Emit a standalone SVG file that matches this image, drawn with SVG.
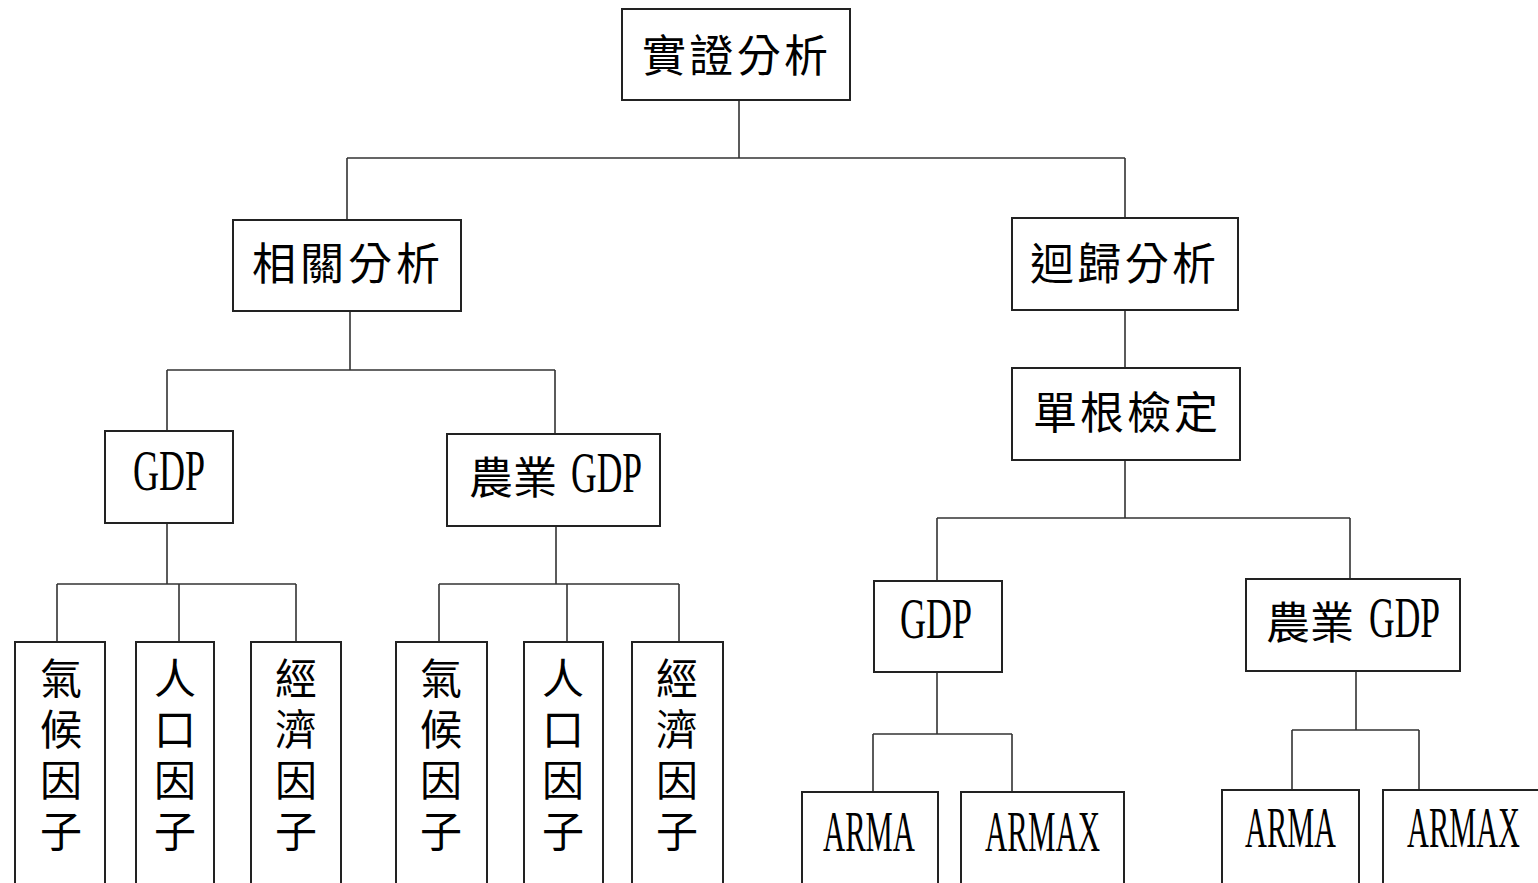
<svg xmlns="http://www.w3.org/2000/svg" width="1538" height="883" viewBox="0 0 1538 883">
<style>
.box{fill:#fff;stroke:#222;stroke-width:2}
.cj{font-family:"Noto Sans CJK TC","Noto Sans CJK SC",sans-serif;font-size:44px;fill:#000}
.cv{font-family:"Noto Sans CJK TC","Noto Sans CJK SC",sans-serif;font-size:42px;fill:#000;text-anchor:middle}
.lt{font-family:"Liberation Serif",serif;font-size:57px;fill:#000}
.conn{fill:none;stroke:#333;stroke-width:1.6}
</style>
<rect width="1538" height="883" fill="#fff"/>
<g id="connectors" class="conn">
<path d="M739 100V158M347 158H1125M347 158V220M1125 158V218"/>
<path d="M350 311V370M167 370H555M167 370V431M555 370V434"/>
<path d="M167 523V584M57 584H296M57 584V642M179 584V642M296 584V642"/>
<path d="M556 526V584M439 584H679M439 584V642M567 584V642M679 584V642"/>
<path d="M1125 310V368M1125 460V518M937 518H1350M937 518V581M1350 518V579"/>
<path d="M937 672V734M873 734H1012M873 734V792M1012 734V792"/>
<path d="M1356 671V730M1292 730H1419M1292 730V790M1419 730V790"/>
</g>
<g id="n-root"><rect class="box" x="622" y="9" width="228" height="91"/><text class="cj" x="642" y="72" textLength="186" lengthAdjust="spacing">實證分析</text></g>
<g id="n-corr"><rect class="box" x="233" y="220" width="228" height="91"/><text class="cj" x="252" y="280" textLength="188" lengthAdjust="spacing">相關分析</text></g>
<g id="n-reg"><rect class="box" x="1012" y="218" width="226" height="92"/><text class="cj" x="1030" y="280" textLength="186" lengthAdjust="spacing">迴歸分析</text></g>
<g id="n-unit"><rect class="box" x="1012" y="368" width="228" height="92"/><text class="cj" x="1033" y="429" textLength="185" lengthAdjust="spacing">單根檢定</text></g>
<g id="n-gdp1"><rect class="box" x="105" y="431" width="128" height="92"/><text class="lt" x="133" y="490" textLength="72" lengthAdjust="spacingAndGlyphs">GDP</text></g>
<g id="n-agdp1"><rect class="box" x="447" y="434" width="213" height="92"/><text class="cj" x="469" y="494" textLength="88" lengthAdjust="spacing">農業</text><text class="lt" x="571" y="492" textLength="71" lengthAdjust="spacingAndGlyphs">GDP</text></g>
<g id="n-c1"><rect class="box" x="15" y="642" width="90" height="250"/><text class="cv"><tspan x="61" y="694">氣</tspan><tspan x="61" y="745">候</tspan><tspan x="61" y="796">因</tspan><tspan x="61" y="847">子</tspan></text></g>
<g id="n-p1"><rect class="box" x="136" y="642" width="78" height="250"/><text class="cv"><tspan x="175" y="694">人</tspan><tspan x="175" y="745">口</tspan><tspan x="175" y="796">因</tspan><tspan x="175" y="847">子</tspan></text></g>
<g id="n-e1"><rect class="box" x="251" y="642" width="90" height="250"/><text class="cv"><tspan x="296" y="694">經</tspan><tspan x="296" y="745">濟</tspan><tspan x="296" y="796">因</tspan><tspan x="296" y="847">子</tspan></text></g>
<g id="n-c2"><rect class="box" x="396" y="642" width="91" height="250"/><text class="cv"><tspan x="441" y="694">氣</tspan><tspan x="441" y="745">候</tspan><tspan x="441" y="796">因</tspan><tspan x="441" y="847">子</tspan></text></g>
<g id="n-p2"><rect class="box" x="524" y="642" width="79" height="250"/><text class="cv"><tspan x="563" y="694">人</tspan><tspan x="563" y="745">口</tspan><tspan x="563" y="796">因</tspan><tspan x="563" y="847">子</tspan></text></g>
<g id="n-e2"><rect class="box" x="632" y="642" width="91" height="250"/><text class="cv"><tspan x="677" y="694">經</tspan><tspan x="677" y="745">濟</tspan><tspan x="677" y="796">因</tspan><tspan x="677" y="847">子</tspan></text></g>
<g id="n-gdp2"><rect class="box" x="874" y="581" width="128" height="91"/><text class="lt" x="900" y="638" textLength="72" lengthAdjust="spacingAndGlyphs">GDP</text></g>
<g id="n-agdp2"><rect class="box" x="1246" y="579" width="214" height="92"/><text class="cj" x="1266" y="639" textLength="88" lengthAdjust="spacing">農業</text><text class="lt" x="1369" y="637" textLength="71" lengthAdjust="spacingAndGlyphs">GDP</text></g>
<g id="n-arma1"><rect class="box" x="802" y="792" width="136" height="100"/><text class="lt" x="823" y="851" textLength="92" lengthAdjust="spacingAndGlyphs">ARMA</text></g>
<g id="n-armax1"><rect class="box" x="961" y="792" width="163" height="100"/><text class="lt" x="985" y="851" textLength="115" lengthAdjust="spacingAndGlyphs">ARMAX</text></g>
<g id="n-arma2"><rect class="box" x="1222" y="790" width="137" height="100"/><text class="lt" x="1245" y="847" textLength="91" lengthAdjust="spacingAndGlyphs">ARMA</text></g>
<g id="n-armax2"><rect class="box" x="1383" y="790" width="160" height="100"/><text class="lt" x="1407" y="847" textLength="113" lengthAdjust="spacingAndGlyphs">ARMAX</text></g>
</svg>
